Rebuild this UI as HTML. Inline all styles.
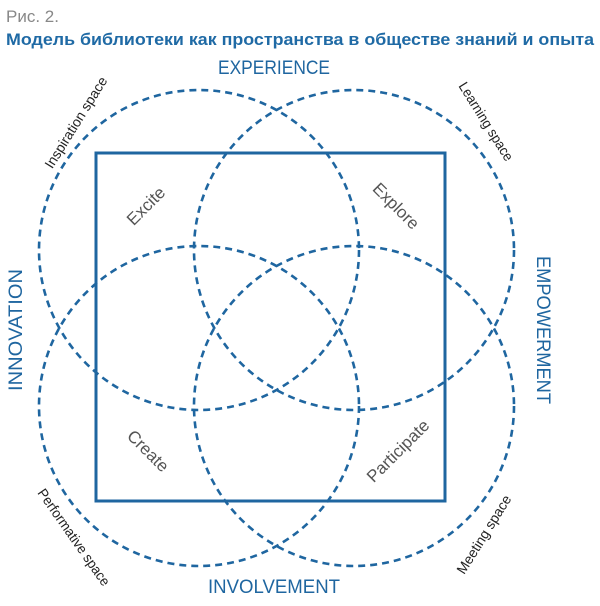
<!DOCTYPE html>
<html><head><meta charset="utf-8"><style>
html,body{margin:0;padding:0;background:#fff;}
svg{display:block;}
</style></head><body>
<svg width="600" height="606" viewBox="0 0 600 606" xmlns="http://www.w3.org/2000/svg">
<text x="6" y="22" font-family="Liberation Sans, sans-serif" font-size="17" fill="#888">Рис. 2.</text>
<text x="6" y="45" font-family="Liberation Sans, sans-serif" font-size="17" font-weight="bold" fill="#1f6aa5" textLength="588" lengthAdjust="spacingAndGlyphs">Модель библиотеки как пространства в обществе знаний и опыта</text>
<g fill="none" stroke="#1f66a0" stroke-width="2.6" stroke-dasharray="7 5">
<circle cx="199" cy="250" r="160"/>
<circle cx="354" cy="250" r="160"/>
<circle cx="199" cy="406" r="160"/>
<circle cx="354" cy="406" r="160"/>
</g>
<rect x="96" y="153" width="349" height="348" fill="none" stroke="#1f66a0" stroke-width="3"/>
<g font-family="Liberation Sans, sans-serif" font-size="19" fill="#1f66a0" text-anchor="middle">
<text x="274" y="74" textLength="112" lengthAdjust="spacingAndGlyphs">EXPERIENCE</text>
<text x="274" y="593" textLength="132" lengthAdjust="spacingAndGlyphs">INVOLVEMENT</text>
<text transform="translate(22,330) rotate(-90)" textLength="122" lengthAdjust="spacingAndGlyphs">INNOVATION</text>
<text transform="translate(537,330) rotate(90)" textLength="148" lengthAdjust="spacingAndGlyphs">EMPOWERMENT</text>
</g>
<g font-family="Liberation Sans, sans-serif" font-size="17" fill="#555" text-anchor="middle">
<text transform="translate(150,210) rotate(-45)">Excite</text>
<text transform="translate(392,210) rotate(45)">Explore</text>
<text transform="translate(144,455) rotate(45)">Create</text>
<text transform="translate(402,455) rotate(-45)">Participate</text>
</g>
<g font-family="Liberation Sans, sans-serif" font-size="14" fill="#222" text-anchor="middle">
<text transform="translate(80,125) rotate(-58)" textLength="105" lengthAdjust="spacingAndGlyphs">Inspiration space</text>
<text transform="translate(482,124) rotate(58)" textLength="90" lengthAdjust="spacingAndGlyphs">Learning space</text>
<text transform="translate(70,540) rotate(55)" textLength="115" lengthAdjust="spacingAndGlyphs">Performative space</text>
<text transform="translate(488,537) rotate(-58)" textLength="90" lengthAdjust="spacingAndGlyphs">Meeting space</text>
</g>
</svg>
</body></html>
